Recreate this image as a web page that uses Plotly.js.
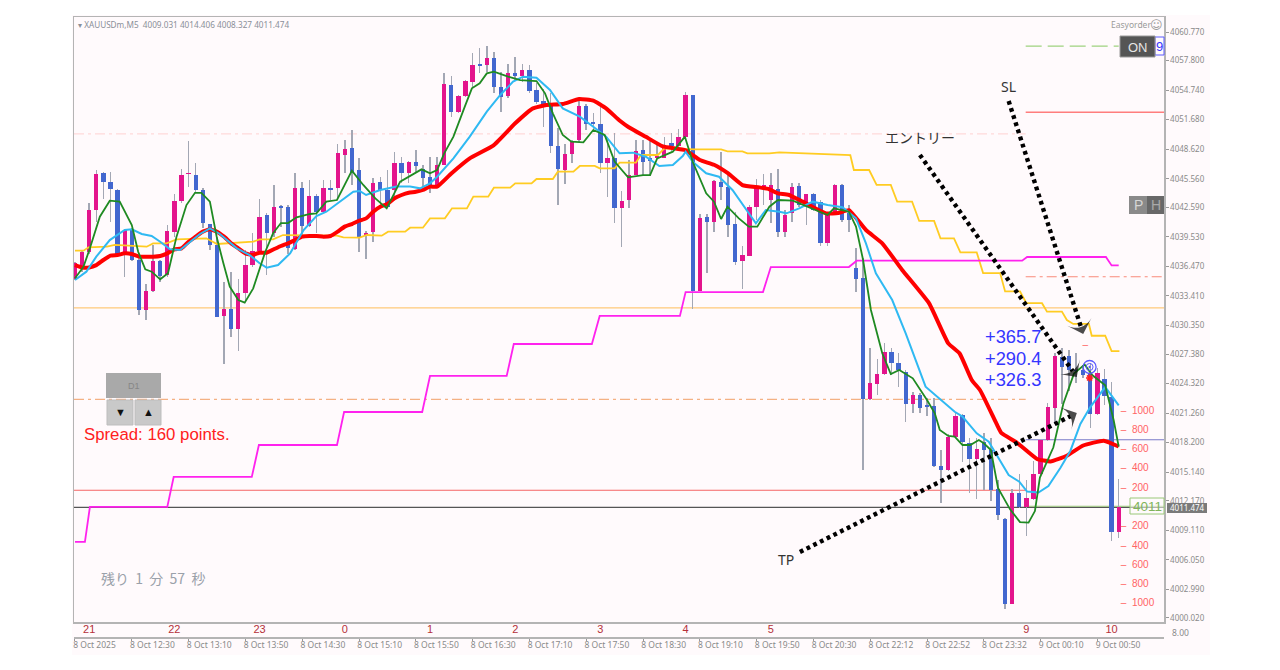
<!DOCTYPE html>
<html><head><meta charset="utf-8">
<script src="https://cdn.plot.ly/plotly-3.0.1.min.js"></script>
<style>html,body{margin:0;padding:0;background:#fff}#c{width:1280px;height:670px}</style>
</head><body><div id="c"></div>
<script>
const opens=[4035.2,4036.3,4038.0,4042.3,4046.2,4045.25,4044.4,4037.8,4040.25,4037.1,4031.9,4033.9,4037.0,4035.6,4040.0,4043.2,4046.0,4045.9,4044.4,4040.85,4038.7,4031.3,4032.1,4030.0,4033.7,4036.6,4038.1,4041.8,4039.9,4042.6,4042.6,4038.25,4044.6,4040.7,4043.8,4042.15,4044.6,4044.6,4048.0,4048.7,4046.5,4039.6,4040.0,4045.25,4044.4,4044.4,4047.15,4046.1,4047.3,4046.6,4045.7,4044.75,4047.0,4055.3,4052.5,4054.1,4055.6,4057.35,4057.3,4058.05,4055.05,4054.15,4056.55,4056.25,4056.85,4054.75,4053.6,4053.1,4049.0,4046.45,4048.1,4049.6,4053.15,4051.4,4051.2,4047.2,4047.7,4042.5,4043.4,4045.95,4048.5,4047.7,4047.7,4047.7,4049.3,4048.9,4049.85,4054.2,4033.95,4041.55,4041.05,4045.25,4044.75,4040.85,4037.05,4037.55,4042.65,4044.55,4043.35,4044.45,4040.07,4041.97,4044.85,4042.85,4043.97,4043.15,4038.93,4041.97,4044.9,4041.97,4036.33,4035.23,4022.72,4024.3,4025.28,4027.56,4026.42,4025.56,4022.17,4023.13,4022.0,4022.0,4015.81,4015.36,4018.82,4021.06,4018.15,4016.47,4018.3,4017.43,4013.36,4010.31,4001.49,4012.95,4011.56,4012.4,4014.93,4018.5,4021.8,4027.1,4027.18,4025.7,4025.7,4025.4,4021.2,4024.8,4022.92,4008.96];
const highs=[4036.95,4038.2,4043.0,4046.5,4046.3,4046.3,4044.5,4040.25,4040.4,4037.3,4034.65,4038.7,4037.1,4040.75,4044.0,4046.6,4049.5,4047.15,4044.6,4040.9,4039.5,4034.9,4035.9,4035.2,4038.2,4039.95,4043.5,4042.0,4044.9,4042.8,4042.8,4046.1,4045.25,4045.4,4044.0,4045.4,4045.4,4049.2,4049.6,4050.6,4047.7,4040.1,4045.6,4045.75,4046.5,4048.3,4047.8,4047.4,4048.5,4047.0,4047.85,4047.85,4056.5,4056.2,4054.25,4055.8,4058.55,4059.1,4059.3,4058.7,4056.65,4057.5,4058.15,4057.5,4057.35,4055.45,4054.9,4054.4,4050.8,4049.2,4049.6,4053.9,4053.3,4052.35,4053.0,4049.9,4050.3,4044.3,4047.5,4049.6,4049.6,4049.6,4049.2,4049.9,4050.3,4050.7,4054.6,4054.25,4041.95,4041.95,4045.4,4048.35,4046.1,4042.15,4038.6,4042.85,4045.5,4046.05,4046.1,4046.6,4042.3,4045.15,4045.1,4044.0,4044.05,4043.35,4041.95,4045.0,4045.0,4042.85,4038.35,4037.3,4027.97,4026.87,4028.5,4028.04,4027.45,4025.73,4023.48,4023.3,4022.8,4022.8,4017.43,4019.1,4021.4,4021.2,4018.65,4018.65,4019.16,4018.65,4014.3,4010.4,4013.4,4014.93,4014.3,4016.3,4018.6,4022.3,4027.44,4028.0,4027.8,4027.5,4026.2,4026.42,4025.9,4025.8,4024.5,4014.4];
const lows=[4035.05,4035.9,4037.8,4041.1,4043.5,4041.1,4037.5,4035.4,4037.05,4031.4,4030.9,4033.8,4034.9,4035.4,4039.55,4043.0,4044.7,4044.2,4040.4,4038.2,4031.2,4026.35,4029.2,4027.7,4032.8,4036.45,4037.8,4035.6,4039.55,4040.6,4037.8,4038.2,4039.55,4040.6,4039.9,4042.0,4043.35,4043.35,4046.1,4044.9,4038.0,4037.2,4039.0,4042.65,4042.5,4043.7,4045.1,4045.1,4046.1,4044.7,4044.1,4044.7,4046.95,4052.0,4052.35,4054.05,4055.1,4056.5,4056.65,4054.4,4052.5,4053.9,4055.8,4055.6,4054.4,4053.3,4050.95,4048.2,4042.8,4045.0,4047.15,4049.4,4050.6,4050.6,4046.1,4043.7,4041.0,4038.5,4042.5,4045.9,4045.8,4045.8,4047.65,4047.7,4048.45,4048.7,4049.75,4032.1,4033.95,4035.75,4040.05,4043.35,4039.55,4036.6,4034.1,4037.5,4041.25,4042.85,4040.95,4039.5,4039.55,4041.1,4042.65,4040.75,4042.25,4038.6,4038.6,4041.8,4041.1,4040.07,4033.85,4015.36,4022.6,4023.13,4025.2,4025.2,4024.0,4020.37,4021.23,4021.23,4020.96,4015.7,4011.9,4015.3,4018.65,4016.2,4012.94,4012.35,4013.3,4012.1,4010.2,4001.0,4001.45,4011.46,4008.5,4012.3,4014.75,4018.4,4020.14,4022.2,4023.5,4024.35,4024.9,4019.7,4021.05,4022.1,4008.05,4008.26];
const closes=[4036.8,4038.0,4042.3,4046.05,4045.25,4044.5,4037.8,4040.25,4037.1,4031.9,4033.9,4037.0,4035.5,4040.1,4043.2,4045.9,4046.05,4044.4,4041.0,4038.7,4031.25,4032.1,4029.95,4033.7,4036.6,4038.1,4041.6,4039.9,4042.6,4042.55,4038.35,4044.6,4040.7,4043.8,4042.15,4044.6,4044.4,4048.2,4048.6,4046.1,4039.55,4039.9,4045.15,4044.4,4042.65,4047.15,4046.1,4047.3,4046.9,4045.6,4044.7,4047.0,4055.35,4052.45,4054.15,4055.7,4057.3,4057.25,4058.05,4055.1,4054.05,4056.5,4056.25,4056.85,4054.65,4053.55,4053.0,4048.9,4046.6,4048.1,4049.4,4053.15,4051.25,4051.25,4047.2,4047.7,4042.5,4043.3,4045.95,4048.45,4047.3,4047.35,4047.9,4048.7,4048.9,4049.85,4054.2,4033.95,4041.45,4041.1,4045.3,4044.75,4040.75,4036.95,4037.6,4042.65,4044.55,4044.9,4044.9,4040.0,4041.8,4044.75,4042.85,4043.97,4042.3,4038.93,4041.8,4044.9,4041.3,4041.3,4035.13,4022.72,4024.35,4025.28,4027.56,4026.42,4025.73,4022.17,4023.13,4021.75,4021.9,4015.77,4015.36,4018.82,4021.0,4018.3,4016.47,4017.5,4017.43,4013.3,4010.7,4001.49,4013.0,4011.56,4012.43,4014.93,4018.5,4021.9,4027.16,4026.0,4025.73,4025.6,4025.2,4021.2,4025.4,4023.0,4008.96,4011.474];

const longMaX=[0,1,2,3,4,5,6,7,8,9,10,11,12,13,14,15,16,17,18,19,20,21,22,23,24,25,26,27,28,29,30,31,32,33,34,35,36,37,38,39,40,41,42,43,44,45,46,47,48,49,50,51,53,55.6,59,62,64.5,66.4,68.7,71,73,74.8,76.7,78,80.4,82.8,86,88,90,92,94,96.4,97.8,99,100.5,102.5,105.8,107.5,109,111.4,113.7,116.5,120.3,123,124.6,126.3,127.5,129.8,130.5,132.6,135.5,137.4,139.7,142,144.9,147];
const longMaY=[4036.6,4036.36,4036.36,4036.6,4037.13,4037.58,4037.65,4037.82,4037.75,4037.48,4037.48,4037.48,4037.55,4037.82,4038.24,4038.34,4039.03,4039.55,4040.07,4040.31,4040.07,4039.55,4038.86,4038.34,4037.82,4037.65,4037.89,4037.89,4038.24,4038.58,4038.86,4039.2,4039.55,4039.62,4039.62,4039.55,4039.62,4040.07,4040.59,4040.86,4041.2,4041.45,4042.14,4042.66,4042.94,4043.53,4043.87,4044.1,4044.2,4044.4,4044.74,4044.73,4046.1,4047.67,4049.05,4051.3,4052.85,4053.2,4053.3,4053.82,4053.65,4052.85,4051.6,4050.9,4049.9,4048.9,4048.5,4047.5,4047.0,4046.1,4044.9,4044.66,4044.46,4044.04,4043.9,4043.18,4041.97,4042.0,4042.3,4040.24,4038.86,4036.1,4032.64,4028.49,4027.44,4024.69,4023.6,4020.14,4019.17,4018.23,4016.5,4016.25,4016.84,4017.9,4018.4,4017.8];

const skyX=[0,1.6,3,4.9,7,8,9.4,10.8,12,13.4,14.8,16.2,17.6,19,20.4,22.8,24.6,26,27,28.6,30.3,32.2,34,35.4,37.3,39.2,40.1,41,43,45.3,47.2,48.6,50,51,53.3,55.6,58,59.9,61.7,63.1,65,66.9,68.7,71.1,73,74.8,76.7,78.6,80.4,82.3,84.2,85.6,86,87,88.9,90.7,92.6,95.9,97.3,99.2,100.2,102,103.9,106,108.1,110,111.4,112.8,115.1,117,119.8,122,123.9,125,127,128.7,129.9,131.5,133,134.1,135.7,137.1,138.8,140.2,141.6,143,145.1,147];
const skyY=[4035.06,4035.92,4037.48,4039.2,4040.24,4040.31,4039.83,4039.62,4039.03,4038.24,4038.17,4039.03,4039.83,4040.41,4039.83,4038.34,4037.65,4036.79,4036.34,4036.61,4037.82,4040.24,4041.69,4042.14,4043.18,4044.21,4044.29,4043.87,4044.39,4044.74,4044.74,4044.56,4045.08,4045.77,4047.67,4049.92,4052.51,4054.24,4055.62,4056.14,4056.03,4054.76,4052.85,4051.99,4050.95,4049.92,4048.19,4048.26,4047.84,4046.88,4046.98,4047.91,4048.36,4047.32,4046.12,4045.77,4044.39,4040.93,4042.31,4042.14,4041.97,4042.49,4043.18,4042.83,4042.6,4041.45,4038.86,4035.75,4032.98,4029.53,4024.0,4022.6,4021.4,4020.9,4019.16,4018.3,4016.75,4014.84,4014.15,4013.12,4013.02,4013.7,4015.6,4017.36,4020.14,4021.88,4023.96,4022.05];

const greenX=[0,1.2,2.1,3.5,4.9,6.3,8,8.9,9.9,10.8,12,13.1,14.3,15.7,16.9,17.8,19,20,20.9,21.8,23,23.9,25.1,26.8,27.9,29,30,31.2,33.1,34,35.4,36.9,39,40.6,42.3,43.9,45.8,48.8,50,51,52,53.3,54.9,55.9,57,58,59,61,62.7,65,66.2,67.3,68.7,69.9,71.6,73,74.6,76,77.9,80,81,82,84.2,85.9,87,88.9,90,91,91.9,93.5,94.9,96.1,97.8,99,101.1,103,106,106.9,109,110,111,112.1,113.7,114.9,116.1,118,120,121.1,121.8,123,123.9,125,126.1,127.3,128,129,130,131.7,133.1,134.3,135.2,135.9,137.8,139.2,140.7,142.2,143.3,145.1,146.3,147];
const greenY=[4035.23,4036.44,4038.34,4041.62,4043.28,4043.18,4040.76,4037.99,4036.16,4035.92,4035.13,4035.75,4039.55,4042.83,4044.1,4044.1,4043.18,4039.38,4036.79,4034.37,4032.98,4032.71,4034.19,4037.99,4039.9,4040.96,4040.96,4041.56,4041.9,4041.97,4043.18,4043.35,4046.39,4044.91,4043.52,4042.49,4045.25,4046.53,4046.12,4046.46,4048.19,4049.92,4053.03,4054.93,4055.45,4056.48,4056.66,4056.14,4055.79,4055.69,4054.41,4052.34,4050.09,4049.4,4049.33,4050.61,4050.09,4047.33,4045.7,4045.94,4045.94,4047.67,4048.36,4049.92,4047.32,4044.04,4043.18,4041.38,4042.66,4041.45,4040.59,4040.59,4042.66,4043.35,4043.28,4042.73,4041.8,4042.49,4042.14,4040.59,4037.13,4031.95,4027.46,4025.31,4025.73,4024.86,4022.62,4021.24,4019.5,4018.89,4018.82,4017.95,4017.95,4018.47,4018.13,4017.43,4013.5,4011.28,4009.96,4009.9,4011.1,4014.58,4017.71,4022.23,4025.35,4026.29,4025.18,4024.14,4020.49,4017.78];

const goldX=[0,1.2,1.9,4.5,5.6,10.1,11,12.9,14.3,18.5,20,22.8,25.1,26,27.9,29.3,36.9,37.8,40.1,41.1,43.2,44.1,46.5,47.2,49,50,52.1,53.1,55.2,56.1,58.2,59,61.3,62,64.3,65,67.3,68,70.2,71.1,73.2,73.9,76,76.7,79,79.7,82.1,83,87.5,91,91.9,94,94.7,97.8,99.2,109.2,109.7,111.85,112.9,114.9,115.8,117.9,118.9,121,121.9,123.8,124.7,127,127.9,130.3,131,133.1,134,136.2,136.9,139,139.7,140.6,142.8,143.2,145.1,146,147.1];
const goldY=[4038.1,4038.1,4038.45,4038.51,4038.69,4038.51,4038.86,4038.86,4039.27,4039.38,4038.79,4038.96,4039.03,4039.27,4039.27,4039.72,4039.65,4039.48,4039.45,4039.72,4039.65,4040.07,4040.07,4040.48,4040.48,4041.45,4041.45,4042.49,4042.49,4043.7,4043.7,4044.63,4044.63,4045.08,4045.08,4045.53,4045.53,4046.29,4046.29,4046.88,4046.88,4046.63,4046.63,4047.22,4047.22,4048.02,4048.02,4048.71,4048.6,4048.6,4048.4,4048.4,4048.19,4048.19,4048.3,4048.0,4046.46,4046.46,4044.91,4044.91,4043.18,4043.18,4041.18,4041.18,4039.38,4039.38,4037.93,4037.93,4035.78,4035.78,4033.87,4033.87,4032.65,4032.65,4031.78,4031.78,4030.91,4030.5,4030.5,4029.28,4029.28,4027.68,4027.68];

const stepX=[0,1.4,2.1,13,13.9,24.9,25.9,36.9,37.9,48.9,50,60.8,61.8,72.8,73.9,85.2,86,96.9,98,109,110.1,133.4,134.1,145.2,146,147];
const stepY=[4007.9,4007.9,4011.53,4011.53,4014.64,4014.64,4017.95,4017.95,4021.37,4021.37,4025.11,4025.11,4028.42,4028.42,4031.33,4031.33,4033.8,4033.8,4036.4,4036.4,4037.06,4037.06,4037.44,4037.44,4036.57,4036.57];

const priceTicks=[4060.77,4057.8,4054.74,4051.68,4048.62,4045.56,4042.59,4039.53,4036.47,4033.41,4030.35,4027.38,4024.32,4021.26,4018.2,4015.14,4012.17,4009.11,4006.05,4002.99,4000.02];
const timeLabels=["8 Oct 2025","8 Oct 12:30","8 Oct 13:10","8 Oct 13:50","8 Oct 14:30","8 Oct 15:10","8 Oct 15:50","8 Oct 16:30","8 Oct 17:10","8 Oct 17:50","8 Oct 18:30","8 Oct 19:10","8 Oct 19:50","8 Oct 20:30","8 Oct 22:12","8 Oct 22:52","8 Oct 23:32","9 Oct 00:10","9 Oct 00:50"];
const timeIdx=[0,8,16,24,32,40,48,56,64,72,80,88,96,104,112,120,128,136,144];
const hourIdx=[2,14,26,38,50,62,74,86,98,134,146];
const hourLabels=["21","22","23","0","1","2","3","4","5","9","10"];
const ladderPrices=[4021.47,4019.47,4017.47,4015.47,4013.47,4009.47,4007.47,4005.47,4003.47,4001.47];
const ladderLabels=["1000","800","600","400","200","200","400","600","800","1000"];

const X0=-0.14,X1=153.38,Y0=3999.6,Y1=4062.325;
const W=1280,H=670;
const px=x=>x/W, py=y=>1-y/H;
const idx=opens.map((_,i)=>i);
const colors=opens.map((o,i)=>closes[i]>=o?'#e3148c':'#4267cf');
const bodyBase=opens.map((o,i)=>Math.min(o,closes[i]));
const bodyH=opens.map((o,i)=>Math.max(Math.abs(closes[i]-o),0.16));
const F='"Liberation Sans",Arial,sans-serif', FA='"Noto Sans",sans-serif', CJK='"Noto Sans CJK JP",sans-serif';
const DASHDOT='10px,4px,3px,4px';

function level(i0,i1,p,color,width,dash){return {type:'line',xref:'x',yref:'y',x0:i0,x1:i1,y0:p,y1:p,layer:'below',line:{color,width,dash:dash||'solid'}};}
function rectP(x0,y0,x1,y1,fill,lc,layer){return {type:'rect',xref:'paper',yref:'paper',x0:px(x0),x1:px(x1),y0:py(y1),y1:py(y0),fillcolor:fill,line:{color:lc||fill,width:lc?1:0},layer:layer||'above'};}
function noteP(x,y,text,size,color,font,xanchor){return {xref:'paper',yref:'paper',x:px(x),y:py(y),text,showarrow:false,xanchor:xanchor||'left',yanchor:'middle',font:{size,color,family:font||F},borderpad:0};}

function arrow(xs,ys){return {x:xs,y:ys,xaxis:'x',yaxis:'y',type:'scatter',mode:'lines+markers',hoverinfo:'skip',showlegend:false,cliponaxis:false,
  line:{color:'#000',width:4.4,dash:'3.8px,3.7px'},
  marker:{symbol:['circle','arrow-wide'],size:[0,18],color:'#000',angleref:'previous',line:{width:0}}};}

const traces=[
 {type:'bar',x:idx,base:lows,y:highs.map((h,i)=>h-lows[i]),width:0.2,marker:{color:'#a3a7b4',line:{width:0}},hoverinfo:'skip',xaxis:'x',yaxis:'y'},
 {type:'bar',x:idx,base:bodyBase,y:bodyH,width:0.6,marker:{color:colors,line:{width:0}},hoverinfo:'skip',xaxis:'x',yaxis:'y'},
 {x:goldX,y:goldY,type:'scatter',mode:'lines',line:{color:'#ffcc22',width:1.8},xaxis:'x',yaxis:'y'},
 {x:stepX,y:stepY,type:'scatter',mode:'lines',line:{color:'#ff22ee',width:1.8},xaxis:'x',yaxis:'y'},
 {x:longMaX,y:longMaY,type:'scatter',mode:'lines',line:{color:'#ff0000',width:4,shape:'spline',smoothing:0.4},xaxis:'x',yaxis:'y'},
 {x:skyX,y:skyY,type:'scatter',mode:'lines',line:{color:'#2fb9f2',width:2},xaxis:'x',yaxis:'y'},
 {x:greenX,y:greenY,type:'scatter',mode:'lines',line:{color:'#1f8a22',width:1.8},xaxis:'x',yaxis:'y'},
 arrow([131.5,142],[4053.62,4029.46]),
 arrow([119,141.1],[4048.02,4025.0]),
 arrow([102.1,141.1],[4006.86,4021.27]),
 {x:[142.9],y:[4026.04],type:'scatter',mode:'markers',marker:{symbol:'circle-open-dot',size:13,color:'#5a5aff',line:{color:'#5a5aff',width:1.3}},xaxis:'x',yaxis:'y'},
 {x:[142.9],y:[4026.04],type:'scatter',mode:'markers',marker:{symbol:'circle-open',size:7,color:'#5a5aff',line:{color:'#5a5aff',width:1}},xaxis:'x',yaxis:'y'},
 {x:[142.9],y:[4024.9],type:'scatter',mode:'markers',marker:{symbol:'asterisk-open',size:6,color:'#ff2020',line:{color:'#ff2020',width:1.6}},xaxis:'x',yaxis:'y'},
 {x:[147.3,147.3,147.3,147.3,147.3,147.3,147.3,147.3,147.3,147.3],y:ladderPrices,type:'scatter',mode:'text',text:ladderLabels.map(s=>'–  '+s),textposition:'middle right',textfont:{family:F,size:10,color:'#ff6464'},cliponaxis:false,xaxis:'x',yaxis:'y'},
 {x:[142.3],y:[4028.3],type:'scatter',mode:'text',text:['–'],textposition:'middle center',textfont:{family:F,size:10,color:'#ff6464'},xaxis:'x',yaxis:'y'},
 {x:hourIdx,y:hourIdx.map(()=>0.5),type:'scatter',mode:'text',text:hourLabels,textposition:'middle center',textfont:{family:F,size:11,color:'#b5303a'},xaxis:'x2',yaxis:'y2'}
];

const shapes=[
 rectP(72,15,1210,655,'#fffafc',null,'below'),
 level(X0,X1,4032.16,'#ffc97a',1.3),
 level(X0,133.9,4022.68,'#f4b183',1.3,DASHDOT),
 level(X0,133.9,4050.2,'#ffd9d9',1.2,DASHDOT),
 level(X0,133.9,4013.26,'#f56464',1),
 level(X0,X1,4011.474,'#555555',1.2),
 level(133.9,X1,4011.6,'#9ac878',1.2),
 level(133.9,147,4059.3,'#9fd27f',1.2,'16px,6px'),
 level(133.9,X1,4052.45,'#ff7d7d',1.3),
 level(133.9,X1,4035.4,'#f98a7a',1.1,DASHDOT),
 level(133.9,X1,4018.5,'#7a7ac8',1.1),
 rectP(106,373,161,398,'#a9a9a9'),
 rectP(107,400,133,425,'#c9c9c9','#bdbdbd'),
 rectP(135,400,161,425,'#c9c9c9','#bdbdbd'),
 rectP(1155,37,1164,55,'#fffafc','#5a5aff'),
 rectP(1120,36,1155,57,'#555555','#9a9a9a'),
 rectP(1129,196,1147,214,'#8a8a8a'),
 rectP(1147,196,1164,214,'#686868'),
 rectP(1130,498,1164,514,'rgba(255,250,252,0.55)','#9ac878'),
 rectP(1167,503,1207,513,'#7a7a7a')
];

const annotations=[
 noteP(77,24,'▾ XAUUSDm,M5  4009.031 4014.406 4008.327 4011.474',8.2,'#8a8f98',FA),
 noteP(1110,25,'Easyorder',8.5,'#9a9a9a',FA),
 noteP(1149,25,'☺',12,'#9a9a9a','"DejaVu Sans",sans-serif'),
 noteP(1008,87,'SL',14,'#333',FA,'center'),
 noteP(920,137,'エントリー',14,'#333',CJK,'center'),
 noteP(786,559,'TP',14,'#333',FA,'center'),
 noteP(984,336,'+365.7',18.3,'#3535ff'),
 noteP(984,358,'+290.4',18.3,'#3535ff'),
 noteP(984,379,'+326.3',18.3,'#3535ff'),
 noteP(83,434,'Spread: 160 points.',16.8,'#ff2020'),
 noteP(133.5,386,'D1',9,'#868686',F,'center'),
 noteP(120,412,'▼',11,'#111',F,'center'),
 noteP(148,412,'▲',11,'#111',F,'center'),
 noteP(100,578,'残り\u00a0\u00a01\u00a0\u00a0分\u00a0\u00a057\u00a0\u00a0秒',14,'#9aa1aa',CJK),
 noteP(1137.5,47,'ON',13,'#e6e6e6',F,'center'),
 noteP(1159,46,'9',13,'#3535ff',F,'center'),
 noteP(1138,205,'P',14,'#d6d6d6',F,'center'),
 noteP(1155.5,205,'H',14,'#a9a9a9',F,'center'),
 noteP(1147,506,'4011',13.5,'#7fb45a',F,'center'),
 noteP(1187,508,'4011.474',8,'#ffffff',FA,'center'),
 noteP(1171,632,'8.00',8.5,'#8a8a8a',FA)
];

const layout={
 width:W,height:H,margin:{l:0,r:0,t:0,b:0},paper_bgcolor:'#ffffff',plot_bgcolor:'rgba(0,0,0,0)',showlegend:false,barmode:'overlay',bargap:0,
 shapes,annotations,hovermode:false,
 xaxis:{domain:[px(74),px(1164)],range:[X0,X1],anchor:'y',showgrid:false,zeroline:false,showticklabels:false,ticks:'',showline:true,mirror:true,linecolor:'#b4b4b4',linewidth:1.5},
 yaxis:{domain:[py(622),py(17)],range:[Y0,Y1],anchor:'x',side:'right',showgrid:false,zeroline:false,showline:true,mirror:true,linecolor:'#b4b4b4',linewidth:1.5,
   tickmode:'array',tickvals:priceTicks,ticktext:priceTicks.map(v=>v.toFixed(3)),ticks:'outside',ticklen:3,tickcolor:'#999',tickwidth:1,tickfont:{family:FA,size:8,color:'#8a8a8a'}},
 xaxis2:{domain:[px(74),px(1164)],range:[X0,X1],anchor:'y2',showgrid:false,zeroline:false,showline:true,mirror:true,linecolor:'#b4b4b4',linewidth:1.5,
   tickmode:'array',tickvals:timeIdx,ticktext:timeLabels,ticks:'outside',ticklen:2,tickcolor:'#999',ticklabelposition:'outside right',ticklabelshift:-3,ticklabelstandoff:-1,tickangle:0,tickfont:{family:FA,size:8.5,color:'#8a8a8a'}},
 yaxis2:{domain:[py(637),py(624)],range:[0,1],anchor:'x2',showgrid:false,zeroline:false,showticklabels:false,ticks:''}
};
Plotly.newPlot('c',traces,layout,{staticPlot:true,displayModeBar:false});
</script></body></html>
